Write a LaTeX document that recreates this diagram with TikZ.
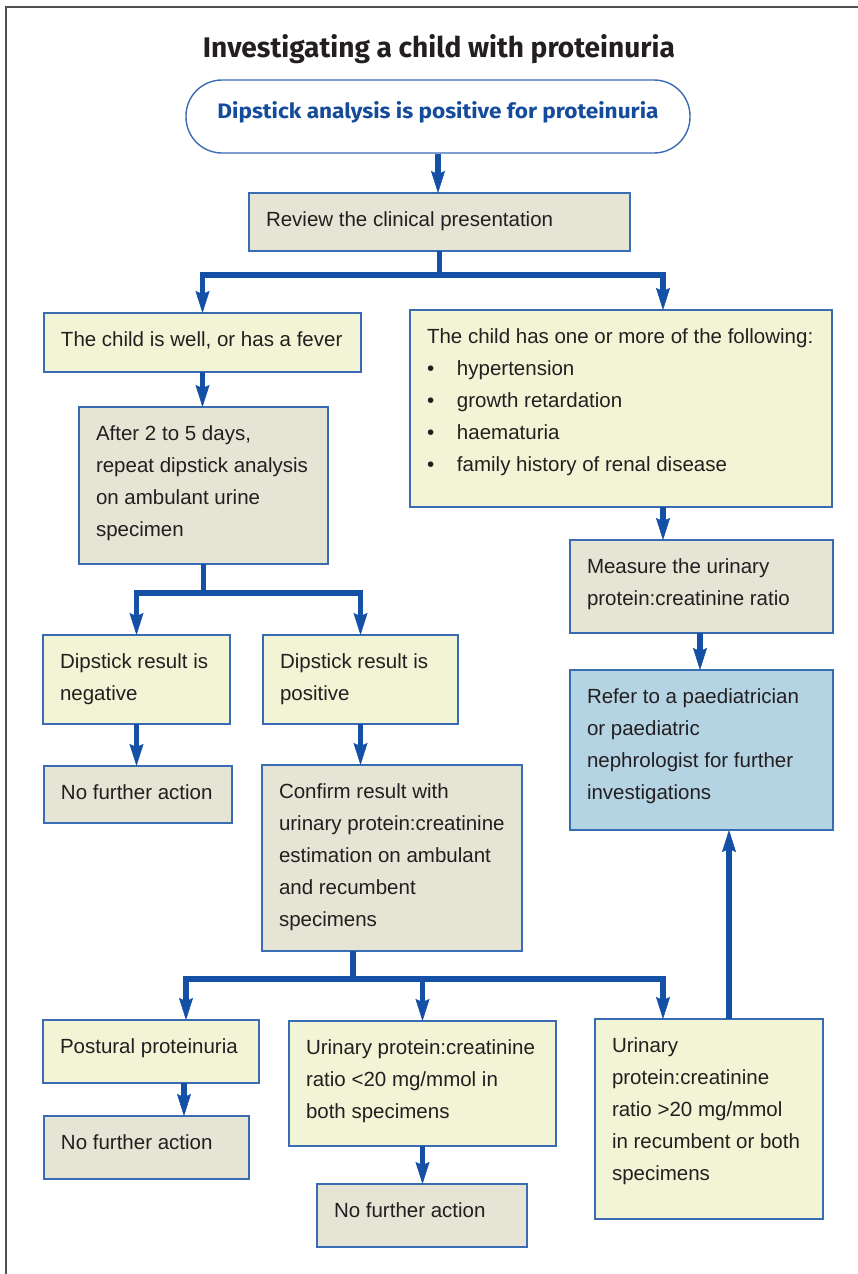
\documentclass[tikz,border=0pt]{standalone}
\usepackage{fontspec}
\usepackage{graphicx}
\setmainfont{Liberation Sans}
\newfontfamily\condfont{Fira Sans}
\usetikzlibrary{arrows.meta}
\definecolor{beige}{RGB}{230,228,212}
\definecolor{pale}{RGB}{241,245,214}
\definecolor{lblue}{RGB}{181,212,227}
\definecolor{bord}{RGB}{58,108,180}
\definecolor{arrowc}{RGB}{20,80,165}
\definecolor{txt}{RGB}{35,31,32}
\definecolor{framec}{RGB}{80,80,80}
\definecolor{headblue}{RGB}{20,75,155}
\newcommand{\bxt}[3]{\parbox[c][#2][t]{#1}{\vspace*{10.6pt}\hspace*{17pt}\begin{tabular}[t]{@{}l@{}}#3\end{tabular}}}
\tikzset{
  box/.style={draw=bord, line width=1.3pt, inner sep=0pt, outer sep=0pt, anchor=north west,
    font=\fontsize{20.5}{32}\selectfont, text=txt},
  lnk/.style={draw=arrowc, line width=5.5pt},
  arr/.style={lnk, -{Stealth[length=22pt,width=14pt,inset=3pt,line width=0.5pt]}}
}
\begin{document}
\begin{tikzpicture}[x=1pt,y=-1pt]
\useasboundingbox (0,0) rectangle (858,1274);
\draw[framec, line width=1.8pt] (858,7) -- (6,7) -- (6,1274);

\node[anchor=base, inner sep=0pt, text=txt] (title) at (439,57)
  {\resizebox{472pt}{23pt}{\condfont\bfseries Investigating a child with proteinuria}};

\node[draw=bord, line width=1.4pt, fill=white, rounded corners=36pt, minimum width=504pt,
  minimum height=73pt, inner sep=0pt, text=headblue, text height=12pt, text depth=9pt] (start) at (438,116.5)
  {\resizebox{441pt}{17pt}{\condfont\bfseries Dipstick analysis is positive for proteinuria}};

\node[box, fill=beige] (review) at (249,193) {\bxt{381pt}{58pt}{Review the clinical presentation}};
\node[box, fill=pale] (well) at (44,313) {\bxt{317pt}{59pt}{The child is well, or has a fever}};
\node[box, fill=pale] (signs) at (410,310) {\bxt{422pt}{197pt}{The child has one or more of the following:\\
  \makebox[30pt][l]{\textbullet}hypertension\\
  \makebox[30pt][l]{\textbullet}growth retardation\\
  \makebox[30pt][l]{\textbullet}haematuria\\
  \makebox[30pt][l]{\textbullet}family history of renal disease}};
\node[box, fill=beige] (repeat) at (79,407) {\bxt{249pt}{157pt}{After 2 to 5 days,\\ repeat dipstick analysis\\ on ambulant urine\\ specimen}};
\node[box, fill=pale] (neg) at (43,635) {\bxt{187pt}{89pt}{Dipstick result is\\ negative}};
\node[box, fill=pale] (pos) at (263,635) {\bxt{195pt}{89pt}{Dipstick result is\\ positive}};
\node[box, fill=beige] (nfa1) at (44,766) {\bxt{188pt}{57pt}{No further action}};
\node[box, fill=beige] (confirm) at (262,765) {\bxt{260pt}{186pt}{Confirm result with\\ urinary protein:creatinine\\ estimation on ambulant\\ and recumbent\\ specimens}};
\node[box, fill=pale] (postural) at (43,1020) {\bxt{216pt}{63pt}{Postural proteinuria}};
\node[box, fill=beige] (nfa2) at (44,1116) {\bxt{205pt}{63pt}{No further action}};
\node[box, fill=pale] (lowratio) at (289,1021) {\bxt{267pt}{125pt}{Urinary protein:creatinine\\ ratio <20 mg/mmol in\\ both specimens}};
\node[box, fill=beige] (nfa3) at (317,1184) {\bxt{210pt}{63pt}{No further action}};
\node[box, fill=pale] (highratio) at (595,1019) {\bxt{228pt}{200pt}{Urinary\\ protein:creatinine\\ ratio >20 mg/mmol\\ in recumbent or both\\ specimens}};
\node[box, fill=beige] (measure) at (570,540) {\bxt{263pt}{93pt}{Measure the urinary\\ protein:creatinine ratio}};
\node[box, fill=lblue] (refer) at (570,670) {\bxt{263pt}{160pt}{Refer to a paediatrician\\ or paediatric\\ nephrologist for further\\ investigations}};

\coordinate (b1) at (0,275);
\coordinate (b2) at (0,593);
\coordinate (c2) at (353,979);
\coordinate (x663) at (663,0);
\coordinate (x186) at (186,0);
\coordinate (x184) at (184,0);
\coordinate (x700) at (700,0);
\coordinate (x729) at (729,0);

\draw[arr] (start.south) -- (start.south |- review.north);
\draw[lnk] (review.south) -- (review.south |- b1);
\draw[arr] (review.south |- b1) -| (well.north);
\draw[arr] (review.south |- b1) -| (signs.north -| x663);
\draw[arr] (well.south) -- (well.south |- repeat.north);
\draw[lnk] (repeat.south) -- (repeat.south |- b2);
\draw[arr] (repeat.south |- b2) -| (neg.north);
\draw[arr] (repeat.south |- b2) -| (pos.north);
\draw[arr] (neg.south) -- (neg.south |- nfa1.north);
\draw[arr] (pos.south) -- (pos.south |- confirm.north);
\draw[lnk] (confirm.south -| c2) -- (c2);
\draw[arr] (c2) -| (postural.north -| x186);
\draw[arr] (c2) -| (lowratio.north);
\draw[arr] (c2) -| (highratio.north -| x663);
\draw[arr] (postural.south -| x184) -- (nfa2.north -| x184);
\draw[arr] (lowratio.south) -- (lowratio.south |- nfa3.north);
\draw[arr] (signs.south -| x663) -- (measure.north -| x663);
\draw[arr] (measure.south -| x700) -- (refer.north -| x700);
\draw[arr] (highratio.north -| x729) -- (refer.south -| x729);
\end{tikzpicture}
\end{document}
